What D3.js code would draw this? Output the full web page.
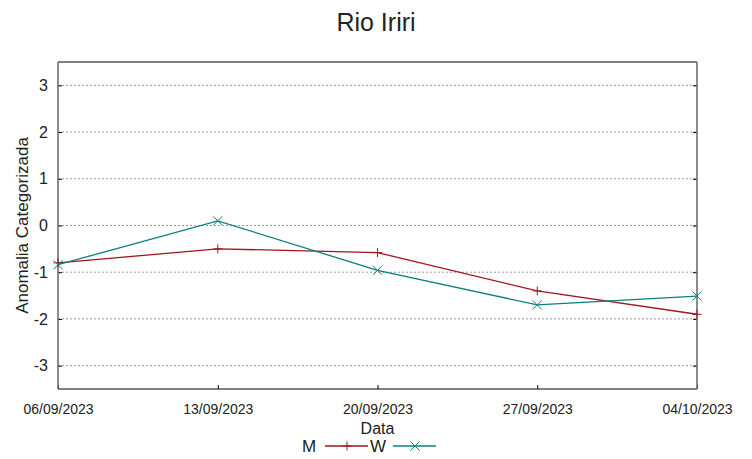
<!DOCTYPE html>
<html>
<head>
<meta charset="utf-8">
<script src="https://cdn.jsdelivr.net/npm/d3@7"></script>
<style>
body { margin: 0; background: #fff; }
svg text { font-family: "Liberation Sans", Arial, sans-serif; fill: #222; }
</style>
</head>
<body>
<svg id="chart" width="752" height="459"></svg>
<script>
var dates = ["06/09/2023", "13/09/2023", "20/09/2023", "27/09/2023", "04/10/2023"];
var valuesM = [-0.8, -0.5, -0.58, -1.4, -1.9];
var valuesW = [-0.84, 0.1, -0.96, -1.7, -1.51];
var yTicks = [-3, -2, -1, 0, 1, 2, 3];

var margin = { top: 62, right: 55, bottom: 70, left: 58 };
var width = 752 - margin.left - margin.right;
var height = 459 - margin.top - margin.bottom;

var svg = d3.select("#chart");
var g = svg.append("g")
    .attr("transform", "translate(" + margin.left + "," + margin.top + ")");

var xScale = d3.scalePoint()
    .domain(dates)
    .range([0, width]);
var yScale = d3.scaleLinear()
    .domain([-3.5, 3.5])
    .range([height, 0]);

// grid lines
g.append("g")
    .selectAll("line")
    .data(yTicks)
    .join("line")
    .attr("x1", 0)
    .attr("x2", width)
    .attr("y1", d => yScale(d))
    .attr("y2", d => yScale(d))
    .attr("stroke", "#999")
    .attr("stroke-width", 1)
    .attr("stroke-dasharray", "2,2");

// y axis: labels on left, inward ticks both sides
var yAxis = d3.axisLeft(yScale).tickValues(yTicks).tickSize(-4).tickPadding(10)
    .tickFormat(d => String(d));
g.append("g")
    .call(yAxis)
    .call(a => a.select(".domain").remove())
    .call(a => a.selectAll("text").style("font-size", "16px").attr("font-family", "Liberation Sans, Arial, sans-serif").attr("fill", "#222"))
    .call(a => a.selectAll("line").attr("stroke", "#000"));
g.append("g")
    .attr("transform", "translate(" + width + ",0)")
    .call(d3.axisRight(yScale).tickValues(yTicks).tickSize(-4).tickFormat(""))
    .call(a => a.select(".domain").remove())
    .call(a => a.selectAll("line").attr("stroke", "#000"));

// x axis
g.append("g")
    .attr("transform", "translate(0," + height + ")")
    .call(d3.axisBottom(xScale).tickSize(-4).tickPadding(15))
    .call(a => a.select(".domain").remove())
    .call(a => a.selectAll("text").style("font-size", "14px").attr("font-family", "Liberation Sans, Arial, sans-serif").attr("fill", "#222"))
    .call(a => a.selectAll("line").attr("stroke", "#000"));

// frame
g.append("line").attr("x1", 0).attr("x2", width).attr("y1", 0).attr("y2", 0).attr("stroke", "#000").attr("stroke-width", 1);
g.append("line").attr("x1", 0).attr("x2", width).attr("y1", height).attr("y2", height).attr("stroke", "#000").attr("stroke-width", 1);
g.append("line").attr("x1", 0).attr("x2", 0).attr("y1", 0).attr("y2", height).attr("stroke", "#666").attr("stroke-width", 1.5);
g.append("line").attr("x1", width).attr("x2", width).attr("y1", 0).attr("y2", height).attr("stroke", "#666").attr("stroke-width", 1.5);

var series = [
    { name: "M", values: valuesM, color: "#a3151f", marker: "plus" },
    { name: "W", values: valuesW, color: "#0b7f7f", marker: "cross" }
];

function drawMarker(sel, type, color) {
    var s = 4.5;
    if (type == "plus") {
        sel.append("line").attr("x1", -s).attr("x2", s).attr("y1", 0).attr("y2", 0);
        sel.append("line").attr("x1", 0).attr("x2", 0).attr("y1", -s).attr("y2", s);
    } else {
        sel.append("line").attr("x1", -s).attr("x2", s).attr("y1", -s).attr("y2", s);
        sel.append("line").attr("x1", -s).attr("x2", s).attr("y1", s).attr("y2", -s);
    }
    sel.selectAll("line").attr("stroke", color).attr("stroke-width", 1);
}

var line = d3.line()
    .x((d, i) => xScale(dates[i]))
    .y(d => yScale(d));

series.forEach(function(s) {
    g.append("path")
        .datum(s.values)
        .attr("d", line)
        .attr("fill", "none")
        .attr("stroke", s.color)
        .attr("stroke-width", 1.3);
    s.values.forEach(function(v, i) {
        var m = g.append("g")
            .attr("transform", "translate(" + xScale(dates[i]) + "," + yScale(v) + ")");
        drawMarker(m, s.marker, s.color);
    });
});

// title and axis labels
svg.append("text")
    .attr("x", 376)
    .attr("y", 31)
    .attr("text-anchor", "middle")
    .style("font-size", "25px")
    .text("Rio Iriri");
svg.append("text")
    .attr("transform", "translate(28," + (margin.top + height / 2) + ") rotate(-90)")
    .attr("text-anchor", "middle")
    .style("font-size", "17px")
    .text("Anomalia Categorizada");
svg.append("text")
    .attr("x", margin.left + width / 2)
    .attr("y", 434)
    .attr("text-anchor", "middle")
    .style("font-size", "16px")
    .text("Data");

// legend
var legendX = [302, 370];
series.forEach(function(s, i) {
    var item = svg.append("g")
        .attr("transform", "translate(" + legendX[i] + ",446)");
    item.append("text")
        .attr("x", 0)
        .attr("y", 6)
        .style("font-size", "17px")
        .text(s.name);
    item.append("line")
        .attr("x1", 23).attr("x2", 66)
        .attr("y1", 0).attr("y2", 0)
        .attr("stroke", s.color)
        .attr("stroke-width", 1.3);
    var m = item.append("g").attr("transform", "translate(45,0)");
    drawMarker(m, s.marker, s.color);
});
</script>
</body>
</html>
